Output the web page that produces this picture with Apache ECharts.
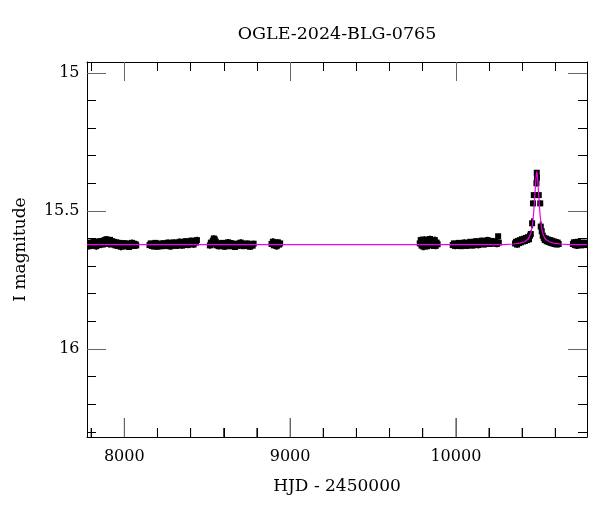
<!DOCTYPE html>
<html><head><meta charset="utf-8">
<script src="https://cdn.jsdelivr.net/npm/echarts@6/dist/echarts.min.js"></script>
<style>html,body{margin:0;padding:0;background:#fff}#c{width:600px;height:512px}</style>
</head><body><div id="c"></div>
<script>
const chartTitle = 'OGLE-2024-BLG-0765';
const xName = 'HJD - 2450000';
const yName = 'I magnitude';
const xMin = 7775, xMax = 10791;
const yMin = 14.961, yMax = 16.319;
const xMajorTicks = [8000, 9000, 10000];
const xMinorTicks = [7800, 8200, 8400, 8600, 8800, 9200, 9400, 9600, 9800, 10200, 10400, 10600];
const yMajorTicks = [15, 15.5, 16];
const yMinorTicks = [15.1, 15.2, 15.3, 15.4, 15.6, 15.7, 15.8, 15.9, 16.1, 16.2, 16.3];

// [HJD-2450000, I mag, error]
const season1 = [[7782,15.620,0.010],[7787,15.628,0.012],[7793,15.615,0.010],[7798,15.623,0.011],[7804,15.617,0.009],[7809,15.626,0.012],[7815,15.612,0.010],[7820,15.621,0.011],[7826,15.616,0.010],[7831,15.628,0.013],[7837,15.619,0.010],[7842,15.611,0.011],[7848,15.624,0.010],[7853,15.615,0.012],[7859,15.620,0.010],[7864,15.609,0.011],[7870,15.622,0.010],[7875,15.613,0.012],[7881,15.606,0.011],[7886,15.618,0.010],[7892,15.603,0.012],[7897,15.614,0.010],[7903,15.608,0.011],[7908,15.620,0.013],[7914,15.605,0.010],[7919,15.616,0.011],[7925,15.610,0.012],[7930,15.622,0.010],[7936,15.612,0.011],[7941,15.618,0.010],[7947,15.625,0.012],[7952,15.614,0.010],[7958,15.620,0.011],[7963,15.627,0.012],[7969,15.616,0.010],[7974,15.622,0.011],[7980,15.630,0.013],[7985,15.619,0.010],[7991,15.625,0.011],[7996,15.617,0.010],[8002,15.628,0.012],[8007,15.621,0.010],[8013,15.626,0.011],[8018,15.618,0.010],[8024,15.624,0.012],[8029,15.631,0.010],[8035,15.620,0.011],[8040,15.626,0.010],[8046,15.616,0.012],[8051,15.623,0.010],[8057,15.619,0.011],[8062,15.627,0.010],[8068,15.621,0.012],[8072,15.625,0.010]];
const season2 = [[8152,15.624,0.011],[8159,15.618,0.010],[8166,15.627,0.012],[8173,15.620,0.010],[8180,15.629,0.011],[8187,15.616,0.010],[8194,15.623,0.012],[8201,15.630,0.010],[8208,15.619,0.011],[8215,15.626,0.010],[8222,15.621,0.012],[8229,15.628,0.011],[8236,15.617,0.010],[8243,15.625,0.011],[8250,15.620,0.012],[8257,15.627,0.010],[8264,15.615,0.011],[8271,15.622,0.010],[8278,15.629,0.012],[8285,15.618,0.010],[8292,15.624,0.011],[8299,15.614,0.010],[8306,15.621,0.012],[8313,15.627,0.010],[8320,15.617,0.011],[8327,15.623,0.010],[8334,15.612,0.012],[8341,15.620,0.010],[8348,15.626,0.011],[8355,15.615,0.010],[8362,15.621,0.012],[8369,15.610,0.011],[8376,15.618,0.010],[8383,15.624,0.011],[8390,15.612,0.012],[8397,15.619,0.010],[8404,15.608,0.011],[8411,15.616,0.010],[8418,15.622,0.012],[8425,15.609,0.011],[8432,15.615,0.010],[8438,15.606,0.012]];
const season3 = [[8516,15.625,0.012],[8522,15.615,0.011],[8528,15.622,0.010],[8534,15.608,0.012],[8540,15.600,0.011],[8546,15.604,0.012],[8552,15.612,0.010],[8558,15.625,0.011],[8564,15.618,0.010],[8570,15.628,0.012],[8577,15.620,0.010],[8584,15.626,0.011],[8591,15.616,0.010],[8598,15.623,0.012],[8605,15.630,0.011],[8612,15.619,0.010],[8619,15.625,0.011],[8626,15.614,0.012],[8633,15.621,0.010],[8640,15.628,0.011],[8647,15.617,0.010],[8654,15.624,0.012],[8661,15.620,0.010],[8668,15.631,0.011],[8675,15.622,0.012],[8682,15.627,0.010],[8689,15.618,0.011],[8696,15.624,0.010],[8703,15.615,0.012],[8710,15.622,0.011],[8718,15.628,0.010],[8726,15.620,0.012],[8734,15.626,0.011],[8742,15.618,0.010],[8750,15.624,0.012],[8758,15.630,0.011],[8766,15.621,0.010],[8774,15.626,0.012],[8780,15.619,0.011]];
const season4 = [[8888,15.620,0.012],[8896,15.612,0.013],[8903,15.625,0.011],[8911,15.616,0.012],[8919,15.628,0.013],[8926,15.614,0.011],[8934,15.622,0.012],[8940,15.618,0.011]];
const season5 = [[9782,15.618,0.012],[9788,15.606,0.013],[9793,15.626,0.012],[9799,15.612,0.011],[9805,15.630,0.013],[9810,15.604,0.012],[9816,15.620,0.011],[9822,15.614,0.013],[9827,15.628,0.012],[9833,15.608,0.011],[9839,15.622,0.013],[9844,15.602,0.012],[9850,15.616,0.011],[9856,15.625,0.013],[9861,15.610,0.012],[9867,15.620,0.011],[9873,15.606,0.013],[9878,15.627,0.012],[9884,15.615,0.011],[9890,15.621,0.012]];
const season6 = [[9981,15.624,0.011],[9988,15.618,0.010],[9995,15.627,0.012],[10002,15.620,0.010],[10009,15.626,0.011],[10016,15.616,0.010],[10023,15.623,0.012],[10030,15.628,0.010],[10037,15.619,0.011],[10044,15.625,0.010],[10051,15.615,0.012],[10058,15.622,0.011],[10065,15.627,0.010],[10072,15.617,0.011],[10079,15.623,0.012],[10086,15.612,0.010],[10093,15.620,0.011],[10100,15.626,0.010],[10107,15.614,0.012],[10114,15.621,0.010],[10121,15.610,0.011],[10128,15.618,0.010],[10135,15.624,0.012],[10142,15.612,0.011],[10149,15.619,0.010],[10156,15.608,0.011],[10163,15.616,0.012],[10170,15.622,0.010],[10177,15.611,0.011],[10184,15.617,0.010],[10191,15.606,0.012],[10198,15.614,0.011],[10205,15.620,0.010],[10212,15.609,0.011],[10219,15.616,0.012],[10226,15.610,0.010],[10233,15.618,0.011],[10240,15.612,0.010],[10247,15.620,0.012],[10255,15.592,0.008],[10259,15.615,0.011]];
const season7 = [[10357,15.618,0.011],[10363,15.612,0.010],[10369,15.622,0.012],[10375,15.609,0.011],[10381,15.617,0.010],[10387,15.606,0.012],[10393,15.614,0.011],[10399,15.603,0.010],[10405,15.611,0.012],[10411,15.601,0.011],[10417,15.609,0.010],[10423,15.598,0.012],[10429,15.606,0.011],[10435,15.596,0.012],[10441,15.603,0.011],[10447,15.590,0.012],[10452,15.584,0.013],[10460,15.545,0.018],[10465,15.473,0.010],[10470,15.443,0.010],[10486,15.400,0.012],[10488,15.362,0.010],[10489,15.380,0.011],[10500,15.443,0.010],[10509,15.473,0.010],[10512,15.557,0.018],[10518,15.574,0.012],[10524,15.590,0.011],[10530,15.598,0.012],[10536,15.606,0.011],[10542,15.600,0.012],[10548,15.610,0.011],[10554,15.604,0.012],[10560,15.613,0.011],[10566,15.606,0.012],[10572,15.616,0.010],[10578,15.608,0.011],[10584,15.618,0.012],[10590,15.611,0.010],[10596,15.620,0.011],[10602,15.613,0.012],[10608,15.622,0.010],[10614,15.615,0.011],[10620,15.620,0.012]];
const season8 = [[10706,15.620,0.011],[10712,15.614,0.012],[10718,15.624,0.010],[10724,15.617,0.011],[10730,15.626,0.012],[10736,15.612,0.010],[10742,15.621,0.011],[10748,15.616,0.012],[10754,15.625,0.010],[10760,15.619,0.011],[10766,15.623,0.012],[10772,15.615,0.010],[10778,15.622,0.011],[10784,15.618,0.012],[10789,15.624,0.010]];

const modelHjd = [7775,10288,10348,10388,10413,10433,10443,10453,10461,10468,10473,10476,10479,10482,10485,10488,10491,10494,10497,10500,10503,10508,10515,10523,10533,10543,10563,10588,10628,10688,10791];
const modelMag = [15.622,15.622,15.620,15.617,15.612,15.604,15.595,15.579,15.555,15.515,15.475,15.445,15.42,15.392,15.368,15.358,15.368,15.392,15.42,15.445,15.475,15.515,15.555,15.579,15.595,15.604,15.612,15.617,15.620,15.622,15.622];

const obs = [].concat(season1, season2, season3, season4, season5, season6, season7, season8);
const model = modelHjd.map((t, i) => [t, modelMag[i]]);

const FONT = 'DejaVu Serif';
const chart = echarts.init(document.getElementById('c'), null, {renderer: 'canvas'});
const gridBox = {left: 87, right: 13, top: 62, bottom: 75, containLabel: false};

function xAxisDef(grid, pos, ticks, len, color, withLabel, line) {
  return {
    gridIndex: grid, type: 'value', min: xMin, max: xMax, position: pos,
    axisLine: {show: line, onZero: false, lineStyle: {color: '#000', width: 1}},
    axisTick: {show: true, inside: true, length: len, customValues: ticks, lineStyle: {color: color, width: 1}},
    axisLabel: {show: withLabel, customValues: ticks, margin: 12, color: '#000', fontFamily: FONT, fontSize: 16,
      formatter: v => String(Math.round(v))},
    splitLine: {show: false},
    name: withLabel ? xName : '', nameLocation: 'middle', nameGap: 41,
    nameTextStyle: {color: '#000', fontFamily: FONT, fontSize: 17}
  };
}
function yAxisDef(grid, pos, ticks, len, color, withLabel, line) {
  return {
    gridIndex: grid, type: 'value', min: yMin, max: yMax, inverse: true, position: pos,
    axisLine: {show: line, onZero: false, lineStyle: {color: '#000', width: 1}},
    axisTick: {show: true, inside: true, length: len, customValues: ticks, lineStyle: {color: color, width: 1}},
    axisLabel: {show: withLabel, customValues: ticks, margin: 7.5, color: '#000', fontFamily: FONT, fontSize: 16,
      formatter: v => String(Math.round(v * 10) / 10)},
    splitLine: {show: false},
    name: withLabel ? yName : '', nameLocation: 'middle', nameGap: 58, nameRotate: 90,
    nameTextStyle: {color: '#000', fontFamily: FONT, fontSize: 17}
  };
}

// bottom-frame ticks drawn through the scales, pointing up from the bottom edge
function tickSeries(values, len, color) {
  return {
    type: 'custom', xAxisIndex: 0, yAxisIndex: 0, clip: false, z: 20, silent: true,
    data: values.map(v => [v, yMax]),
    encode: {x: 0, y: 1},
    renderItem: function (params, api) {
      const p = api.coord([api.value(0), api.value(1)]);
      return {type: 'line', shape: {x1: p[0], y1: p[1], x2: p[0], y2: p[1] - len},
        style: {stroke: color, lineWidth: 1}};
    }
  };
}

chart.setOption({
  animation: false,
  backgroundColor: '#fff',
  title: {text: chartTitle, left: 332, textAlign: 'center', top: 20,
    textStyle: {color: '#000', fontFamily: FONT, fontSize: 17.5, fontWeight: 'normal'}},
  grid: [gridBox, gridBox, gridBox, gridBox].map(g => Object.assign({}, g)),
  xAxis: [
    xAxisDef(0, 'bottom', xMajorTicks, 19, '#666', true, true),
    xAxisDef(1, 'bottom', xMinorTicks, 9, '#000', false, false),
    xAxisDef(2, 'top', xMajorTicks, 19, '#666', false, true),
    xAxisDef(3, 'top', xMinorTicks, 9, '#000', false, false)
  ],
  yAxis: [
    yAxisDef(0, 'left', yMajorTicks, 19, '#666', true, true),
    yAxisDef(1, 'left', yMinorTicks, 9, '#000', false, false),
    yAxisDef(2, 'right', yMajorTicks, 19, '#666', false, true),
    yAxisDef(3, 'right', yMinorTicks, 9, '#000', false, false)
  ],
  series: [
    {
      type: 'custom', xAxisIndex: 0, yAxisIndex: 0, clip: true, z: 2,
      data: obs,
      encode: {x: 0, y: 1},
      renderItem: function (params, api) {
        const t = api.value(0), m = api.value(1), e = api.value(2);
        const p = api.coord([t, m]);
        const a = api.coord([t, m - e]);
        const b = api.coord([t, m + e]);
        const s = 6;
        return {type: 'group', children: [
          {type: 'line', shape: {x1: p[0], y1: a[1], x2: p[0], y2: b[1]}, style: {stroke: '#000', lineWidth: 2}},
          {type: 'rect', shape: {x: p[0] - s / 2, y: p[1] - s / 2, width: s, height: s}, style: {fill: '#000'}}
        ]};
      }
    },
    {
      type: 'line', xAxisIndex: 0, yAxisIndex: 0, data: model, showSymbol: false, symbol: 'none',
      z: 5, lineStyle: {color: '#ee00ee', width: 1.2}, clip: true
    },
    tickSeries(xMajorTicks, 19, '#666'),
    tickSeries(xMinorTicks, 9, '#000')
  ]
});
</script>
</body></html>
